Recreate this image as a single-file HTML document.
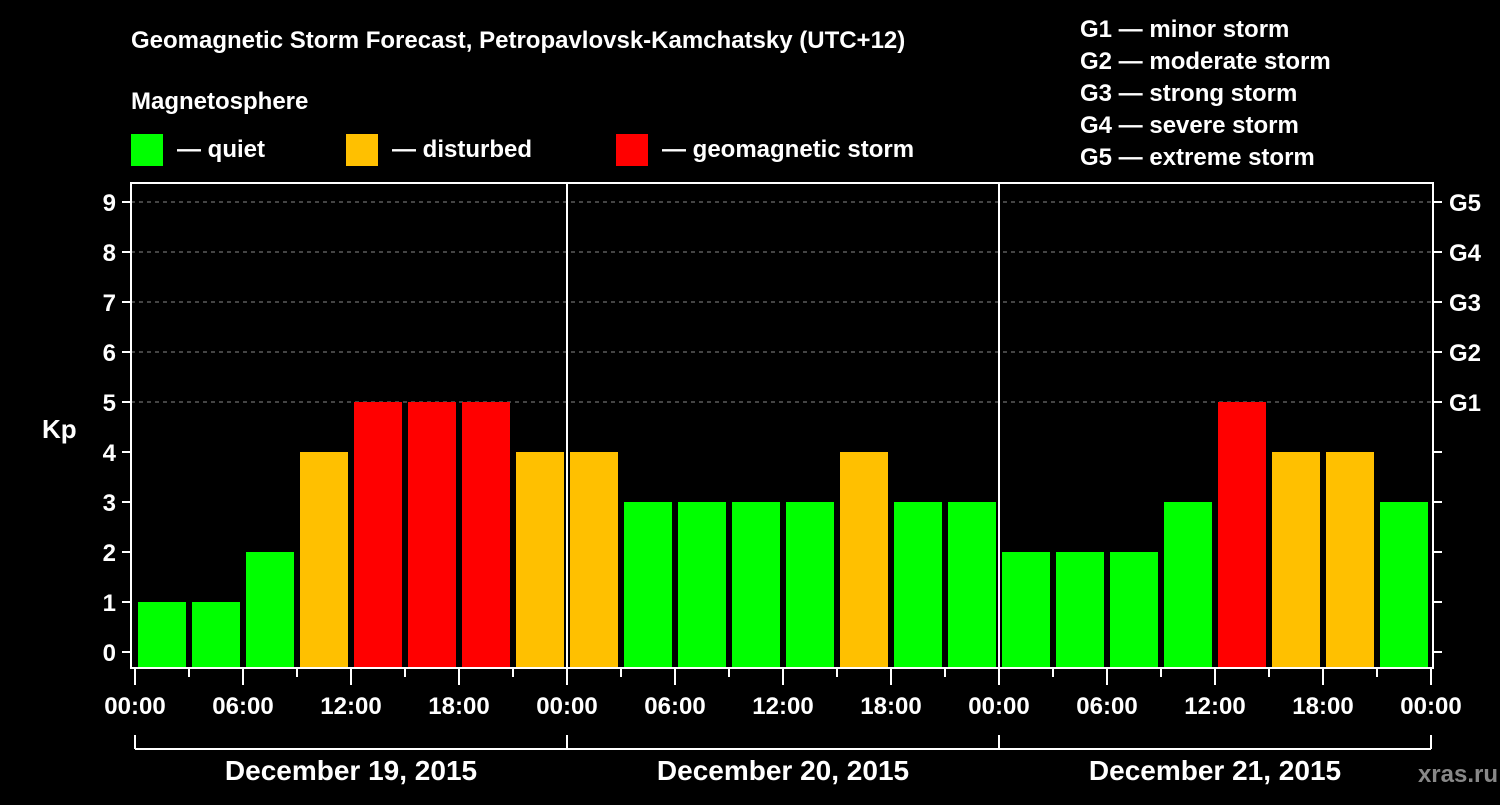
<!DOCTYPE html>
<html><head><meta charset="utf-8"><style>
body{margin:0;background:#000;width:1500px;height:800px;overflow:hidden}
text{font-family:"Liberation Sans",Arial,sans-serif;font-weight:bold;fill:#fff}
</style></head><body>
<svg id="c" width="1500" height="800" xmlns="http://www.w3.org/2000/svg">
<text x="131" y="48" font-size="24">Geomagnetic Storm Forecast, Petropavlovsk-Kamchatsky (UTC+12)</text>
<text x="131" y="109" font-size="24">Magnetosphere</text>
<g><rect x="131" y="134" width="32" height="32" fill="#00ff00"/><text x="177" y="157" font-size="24">— quiet</text></g>
<g><rect x="346" y="134" width="32" height="32" fill="#ffc000"/><text x="392" y="157" font-size="24">— disturbed</text></g>
<g><rect x="616" y="134" width="32" height="32" fill="#ff0000"/><text x="662" y="157" font-size="24">— geomagnetic storm</text></g>
<g font-size="24">
<text x="1080" y="37">G1 — minor storm</text><text x="1080" y="69">G2 — moderate storm</text><text x="1080" y="101">G3 — strong storm</text><text x="1080" y="133">G4 — severe storm</text><text x="1080" y="165">G5 — extreme storm</text></g>
<text x="42" y="438" font-size="26">Kp</text>
<text x="1498" y="782" font-size="24" text-anchor="end" fill="#888" style="fill:#888">xras.ru</text>
<g id="g"></g>
</svg>
<script>
const kpValues=[1,1,2,4,5,5,5,4, 4,3,3,3,3,4,3,3, 2,2,2,3,5,4,4,3];
const dayLabels=["December 19, 2015","December 20, 2015","December 21, 2015"];
const hourLabels=["00:00","06:00","12:00","18:00"];
const gLabels=["G1","G2","G3","G4","G5"];
const NS="http://www.w3.org/2000/svg",G=document.getElementById('g');
const x0=135,slot=54,y=v=>652-50*v,plotTop=183,plotBot=668,plotL=131,plotR=1433;
function mk(t,a,txt){const e=document.createElementNS(NS,t);for(const k in a)e.setAttribute(k,a[k]);if(txt!=null)e.textContent=txt;G.appendChild(e);return e;}
for(let v=5;v<=9;v++){const l=mk('line',{x1:plotL,x2:plotR,y1:y(v),y2:y(v),stroke:'#888','stroke-dasharray':'4,4','stroke-width':1});

}
kpValues.forEach((v,i)=>{const col=v>=5?'#ff0000':v>=4?'#ffc000':'#00ff00';
const r=mk('rect',{x:x0+i*slot+3,y:y(v),width:48,height:plotBot-y(v),fill:col});

});
const f=mk('rect',{x:plotL,y:plotTop,width:plotR-plotL,height:plotBot-plotTop,fill:'none',stroke:'#fff','stroke-width':2});


for(let d=1;d<3;d++){const l=mk('line',{x1:x0+d*432,x2:x0+d*432,y1:plotTop,y2:plotBot,stroke:'#fff','stroke-width':2});

}
for(let v=0;v<=9;v++){mk('line',{x1:122,x2:plotL,y1:y(v),y2:y(v),stroke:'#fff','stroke-width':2});
mk('line',{x1:plotR,x2:1442,y1:y(v),y2:y(v),stroke:'#fff','stroke-width':2});
const t=mk('text',{x:116,y:y(v)+9,'font-size':24,'text-anchor':'end'},String(v));

}
gLabels.forEach((s,i)=>{const t=mk('text',{x:1449,y:y(5+i)+9,'font-size':24},s);

});
for(let i=0;i<=24;i++){const xx=x0+i*slot,maj=i%2==0;
mk('line',{x1:xx,x2:xx,y1:plotBot,y2:plotBot+(maj?17:9),stroke:'#fff','stroke-width':2});
if(maj){const t=mk('text',{x:xx,y:714,'font-size':24,'text-anchor':'middle'},hourLabels[(i/2)%4]);

}}
mk('line',{x1:x0,x2:x0+3*432,y1:749,y2:749,stroke:'#fff','stroke-width':2});
for(let d=0;d<=3;d++)mk('line',{x1:x0+d*432,x2:x0+d*432,y1:735,y2:749,stroke:'#fff','stroke-width':2});
dayLabels.forEach((s,d)=>{const t=mk('text',{x:x0+d*432+216,y:780,'font-size':28,'text-anchor':'middle'},s);

});
</script></body></html>
